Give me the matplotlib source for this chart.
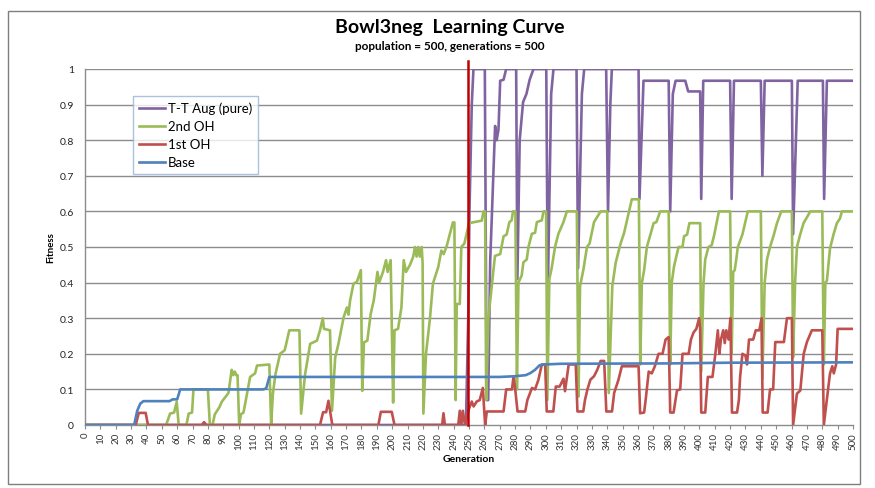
import matplotlib
matplotlib.use("Agg")
import matplotlib.pyplot as plt
from matplotlib.patches import Rectangle

plt.rcParams['font.family'] = ['Lato', 'DejaVu Sans']

title = "Bowl3neg  Learning Curve"
subtitle = "population = 500, generations = 500"
x_label = "Generation"
y_label = "Fitness"
series_names = ["T-T Aug (pure)", "2nd OH", "1st OH", "Base"]
x_ticks = list(range(0, 501, 10))
y_ticks = [0, 0.1, 0.2, 0.3, 0.4, 0.5, 0.6, 0.7, 0.8, 0.9, 1]
y_tick_labels = ["0", "0.1", "0.2", "0.3", "0.4", "0.5", "0.6", "0.7", "0.8", "0.9", "1"]
marker_gen = 249.5

base_gen = [0, 32, 34, 36, 38, 55, 57, 60, 62, 116, 118, 120, 270, 280, 287, 290, 293, 296, 299, 310, 380, 420, 500]
base_fit = [0, 0, 0.04, 0.06, 0.067, 0.067, 0.072, 0.072, 0.1, 0.1, 0.103, 0.135, 0.135, 0.137, 0.14, 0.146, 0.155, 0.168, 0.17, 0.172, 0.173, 0.175, 0.176]

oh1_gen = [0, 33, 35, 39.5, 41, 76, 77.5, 79, 153, 155, 157, 158.5, 161, 191, 192.6, 199.7, 201.5,
           232.5, 233.4, 234.3, 243, 244, 245, 246, 247, 247.5, 249.7, 251.8, 253, 255, 257, 259, 260.5,
           261.6, 272.5, 274.2, 278, 279, 280.1, 281.6, 286.6, 288, 291, 293, 295.2, 297.4, 299.6,
           300.6, 304.9, 306.5, 309, 311.5, 312.5, 314.9, 319.5, 320.6, 324.4, 325.5, 327.1, 329, 331.4,
           333.5, 335.7, 338, 339.4, 343.1, 344.5, 347.3, 349.5, 360.4, 361.4,
           364, 365, 367, 369, 371, 373.4, 376, 378, 380, 381, 383.2, 385.4, 387.5, 389, 393, 394.5,
           396.2, 398, 399.8, 400.5, 401.2, 403.8, 405.5, 408.5, 410.4, 412, 413, 414, 415.5, 416.5,
           417.5, 419, 420.2, 421.2, 424.5, 425.7, 426.5, 428, 430, 431, 432.3, 435, 436.7, 439, 440.5,
           441.2, 444.4, 446, 448, 449.4, 455, 457, 460.2, 461, 463.5, 465.7, 467.9, 470, 473.2, 480,
           481, 483.2, 485, 486.5, 487.5, 489, 490, 500]
oh1_fit = [0, 0, 0.034, 0.034, 0, 0, 0.008, 0, 0, 0.036, 0.036, 0.068, 0, 0, 0.037, 0.037, 0,
           0, 0.033, 0, 0, 0.04, 0, 0.04, 0.01, 0, 0.042, 0.066, 0.052, 0.066, 0.07, 0.104, 0,
           0.038, 0.038, 0.1, 0.1, 0.137, 0.1, 0.038, 0.038, 0.07, 0.104, 0.1, 0.127, 0.17, 0.17,
           0.038, 0.038, 0.108, 0.108, 0.13, 0.095, 0.17, 0.17, 0.038, 0.038, 0.07, 0.1, 0.127, 0.137,
           0.155, 0.18, 0.18, 0.038, 0.038, 0.09, 0.127, 0.165, 0.165, 0.033,
           0.035, 0.07, 0.15, 0.145, 0.165, 0.2, 0.2, 0.24, 0.247, 0.035, 0.035, 0.097, 0.1, 0.2, 0.2, 0.24,
           0.26, 0.27, 0.3, 0.27, 0.035, 0.035, 0.135, 0.135, 0.2, 0.266, 0.2, 0.24, 0.266, 0.23,
           0.266, 0.24, 0.3, 0.035, 0.035, 0.07, 0.135, 0.2, 0.195, 0.17, 0.24, 0.24, 0.266, 0.266, 0.3,
           0.035, 0.035, 0.1, 0.1, 0.233, 0.233, 0.3, 0.3, 0.0, 0.088, 0.097, 0.2, 0.233, 0.266, 0.266,
           0.0, 0.078, 0.144, 0.165, 0.145, 0.17, 0.27, 0.27]

oh2_gen = [0, 52.8, 55.4, 58, 59.7, 61, 66, 67.5, 69.7, 70.6, 80, 81.3, 83, 84.5, 87.5, 89, 93.4,
           95.5, 96.5, 97.5, 98.5, 99.3, 100.4, 101.5, 103.2, 104.7, 106, 107.5, 110.7, 112, 120,
           121.2, 122.3, 124, 127, 130, 131, 133, 139.6, 140.7, 143.3, 146.6, 151, 153, 154.8, 155.6,
           159.5, 160.8, 162.9, 165, 168.4, 170.5, 171.5, 172.6, 174.8, 177, 179.6, 180.5, 181.6,
           183.8, 186, 188, 190.4, 191.5, 194, 196, 197, 199, 200.6, 201.5, 203.8, 206, 207.5, 209,
           211.6, 213.7, 214.8, 215.9, 217, 218, 219.2, 219.8, 220.3, 222, 224.6, 226.5, 230, 232,
           233.5, 235.5, 237.5, 239.5, 240.5, 241.3, 242, 244, 245, 247, 250, 258.3, 259.4, 260.5,
           261.2, 262.6, 266.9, 270.3, 271.2, 272.5, 274.5, 276.3, 277.8, 278.6, 280.2, 281.2, 282.2,
           284.3, 285.4, 287.6, 288.7, 290.9, 293, 294.2, 297.4, 298.5, 300.2, 301, 302.3, 303.8, 306,
           308.2, 311.5, 313.7, 320.2, 321.3, 322.3, 324.5, 326.8, 328.5, 331.4, 335.7, 340, 341,
           343.3, 345.5, 348.7, 351, 354.2, 356, 360.6, 361.5, 362.5, 364, 365.8, 368, 370.2, 372,
           374.5, 380, 381, 382, 383.5, 384.5, 386.4, 389, 390, 392, 393.5, 400.5, 401.2, 402.7,
           403.8, 405.9, 408, 409.7, 411.2, 412.7, 420, 421, 422, 423, 424, 425, 428, 429.7, 431.5,
           440, 441, 442.5, 444, 446, 448.5, 450.5, 453.3, 460.2, 461, 462.3, 463.5, 465.6, 467.8,
           472.2, 480, 481, 482, 483, 485, 487.3, 489.5, 491.5, 492.8, 500]
oh2_fit = [0, 0, 0.032, 0.035, 0.065, 0, 0, 0.032, 0.035, 0.1, 0.1, 0, 0, 0.03, 0.05, 0.065, 0.09,
           0.155, 0.14, 0.15, 0.14, 0.14, 0, 0.03, 0.035, 0.07, 0.1, 0.135, 0.145, 0.167, 0.17,
           0, 0.087, 0.143, 0.2, 0.21, 0.228, 0.266, 0.266, 0.032, 0.143, 0.228, 0.237, 0.266, 0.3, 0.27,
           0.266, 0.04, 0.19, 0.228, 0.303, 0.33, 0.31, 0.35, 0.397, 0.402, 0.435, 0.096, 0.232,
           0.237, 0.312, 0.35, 0.43, 0.40, 0.43, 0.463, 0.43, 0.463, 0.063, 0.266, 0.27, 0.33, 0.463, 0.43,
           0.45, 0.473, 0.5, 0.473, 0.5, 0.473, 0.5, 0.455, 0.032, 0.2, 0.3, 0.397, 0.444, 0.49,
           0.48, 0.503, 0.536, 0.569, 0.569, 0.07, 0.34, 0.34, 0.5, 0.51, 0.567, 0.574, 0.6, 0.6,
           0.07, 0.3, 0.475, 0.48, 0.5, 0.53, 0.535, 0.57, 0.575, 0.6, 0.6, 0.1, 0.4,
           0.42, 0.457, 0.465, 0.5, 0.537, 0.54, 0.57, 0.575, 0.6, 0.6, 0.07, 0.41, 0.44, 0.5,
           0.537, 0.57, 0.6, 0.6, 0.08, 0.39, 0.437, 0.5, 0.51, 0.57, 0.6, 0.6, 0.09,
           0.39, 0.456, 0.51, 0.54, 0.6, 0.634, 0.634, 0.17, 0.398, 0.435, 0.5, 0.534, 0.567, 0.57,
           0.6, 0.6, 0.17, 0.4, 0.446, 0.465, 0.5, 0.5, 0.53, 0.535, 0.567, 0.567, 0.15, 0.4,
           0.465, 0.5, 0.505, 0.535, 0.567, 0.6, 0.6, 0.2, 0.43, 0.435, 0.465, 0.5, 0.535, 0.567, 0.6,
           0.6, 0.13, 0.4, 0.465, 0.5, 0.535, 0.567, 0.6, 0.6, 0.19, 0.4, 0.5, 0.535, 0.567,
           0.6, 0.6, 0.17, 0.4, 0.405, 0.495, 0.535, 0.567, 0.58, 0.6, 0.6]

tt_gen = [0, 248, 249.5, 250.3, 251.8, 252.9, 260.3, 261.5, 262.5, 263.8, 267, 268, 269.2, 270.3,
          272.5, 274.2, 280.7, 281.5, 283, 285.2, 287.4, 289.5, 292, 300.3, 301.3, 303.5, 305, 320,
          321, 323.5, 325, 339.3, 340.5, 342, 343, 360.4, 361, 363.6, 380, 381, 382.7, 384.5, 390.8,
          392.7, 400.5, 401.2, 402.5, 420, 421, 422.5, 440, 441, 442.5, 460.2, 461, 464, 480.4,
          481.2, 483, 500]
tt_fit = [0, 0, 0.3, 0.6, 0.9, 1.0, 1.0, 0.07, 0.07, 0.46, 0.84, 0.8, 0.83, 0.967,
          0.97, 1.0, 1.0, 0.41, 0.8, 0.907, 0.93, 0.97, 1.0, 1.0, 0.37, 0.93, 1.0, 1.0,
          0.44, 0.93, 1.0, 1.0, 0.6, 0.9, 1.0, 1.0, 0.635, 0.967, 0.967, 0.6, 0.93, 0.967, 0.967,
          0.937, 0.937, 0.635, 0.967, 0.967, 0.635, 0.967, 0.967, 0.70, 0.967, 0.967, 0.536, 0.967, 0.967,
          0.635, 0.967, 0.967]

c_tt = "#8064A2"
c_oh2 = "#9BBB59"
c_oh1 = "#C0504D"
c_base = "#4F81BD"
grid_c = "#8C8C8C"

fig = plt.figure(figsize=(8.75, 4.89), dpi=100)
W, H = 875, 489
ax = fig.add_axes([85 / W, 1 - 426 / H, (853 - 85) / W, (426 - 70) / H])

lw = 1.9
ax.plot(tt_gen, tt_fit, color=c_tt, lw=lw, label=series_names[0], zorder=3)
ax.plot(oh2_gen, oh2_fit, color=c_oh2, lw=lw, label=series_names[1], zorder=4)
ax.plot(oh1_gen, oh1_fit, color=c_oh1, lw=lw, label=series_names[2], zorder=5)
ax.plot(base_gen, base_fit, color=c_base, lw=lw, label=series_names[3], zorder=6)

ax.plot([marker_gen, marker_gen], [0, 1.023], color="#C00000", lw=1.8, zorder=7, clip_on=False)

ax.set_xlim(0, 500)
ax.set_ylim(0, 1)
ax.set_yticks(y_ticks)
ax.set_yticklabels(y_tick_labels, fontsize=7.5, color="#222222")
ax.set_xticks(x_ticks)
ax.set_xticklabels([str(t) for t in x_ticks], rotation=90, fontsize=7, color="#333333")
ax.tick_params(axis='x', length=3, width=0.8, color=grid_c, pad=2)
ax.tick_params(axis='y', length=0, pad=8)
for yv in y_ticks[1:]:
    ax.axhline(yv, color=grid_c, lw=1.0, zorder=1)
for s in ['top', 'right']:
    ax.spines[s].set_visible(False)
ax.spines['left'].set_color(grid_c)
ax.spines['bottom'].set_color(grid_c)
ax.spines['left'].set_linewidth(1.0)
ax.spines['bottom'].set_linewidth(1.0)

ax.set_xlabel(x_label, fontsize=7.5, fontweight='bold', labelpad=4)
ax.set_ylabel(y_label, fontsize=7, fontweight='bold', labelpad=3)

fig.text(450 / W, 1 - 27 / H, title, ha='center', va='center', fontsize=14, fontweight='bold')
fig.text(450 / W, 1 - 47 / H, subtitle, ha='center', va='center', fontsize=8.5, fontweight='bold')

leg = ax.legend(loc='upper left', bbox_to_anchor=(133 / W, 1 - 97 / H), bbox_transform=fig.transFigure,
                fontsize=9.5, frameon=True, fancybox=False, handlelength=2.0, handletextpad=0.2,
                borderpad=0.45, labelspacing=0.45, borderaxespad=0)
leg.get_frame().set_edgecolor("#95B3D7")
leg.get_frame().set_linewidth(1.0)
leg.set_zorder(10)

fig.patches.append(Rectangle((8 / W, 1 - 485 / H), (860 - 8) / W, (485 - 12) / H,
                             transform=fig.transFigure, fill=False, edgecolor="#7F7F7F", lw=1.0))

fig.savefig("out.png", dpi=100, facecolor="white")
